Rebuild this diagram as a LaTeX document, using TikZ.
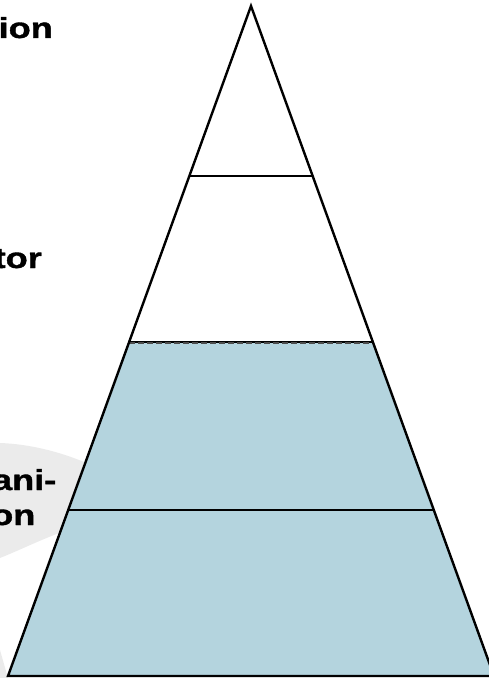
\documentclass[tikz,border=0pt]{standalone}
\usepackage{fontspec}
\setmainfont{Liberation Sans}
\newfontfamily\lblfont{Liberation Sans}[UprightFont={* Bold},UprightFeatures={FakeBold=1.2}]
\definecolor{layerblue}{RGB}{180,212,222}
\definecolor{bandgray}{RGB}{235,235,235}
\begin{document}
\begin{tikzpicture}[x=1bp,y=-1bp,
  lbl/.style={anchor=base east,inner sep=0pt,font=\lblfont\fontsize{29}{33}\selectfont},
  edge/.style={line width=2.4bp,line join=miter},
  sep/.style={line width=1.8bp}]
\useasboundingbox (0,0) rectangle (489,678);
\clip (0,0) rectangle (489,678);
% background gray band
\fill[bandgray] (0,443) .. controls (30,444) and (60,452) .. (84,462)
  -- (62,532) .. controls (40,540) and (20,550) .. (0,558) -- cycle;
\fill[bandgray] (0,650) -- (8,678) -- (0,678) -- cycle;
% corners
\coordinate (A) at (251,6);
\coordinate (BL) at (8,676);
\coordinate (BR) at (494,676);
\coordinate (L1) at (189.4,176);
\coordinate (R1) at (312.6,176);
\coordinate (L2) at (129.3,342);
\coordinate (R2) at (372.7,342);
\coordinate (L3) at (68.5,510);
\coordinate (R3) at (433.5,510);
% blue lower part
\fill[layerblue] (L2) -- (R2) -- (BR) -- (BL) -- cycle;
% separators
\draw[sep] (L1) -- (R1);
\draw[line width=1.2bp] (L2) -- (R2);
\draw[line width=1.5bp,dash pattern=on 6bp off 3bp,black!70] ([yshift=-1bp]L2) -- ([yshift=-1bp]R2);
\draw[sep] (L3) -- (R3);
% outline
\draw[edge] (A) -- (BR) -- (BL) -- cycle;
% labels
\node[lbl] (t1) at (53,38) {\scalebox{1.25}[1]{ion}};
\node[lbl] (t2) at (42,268) {\scalebox{1.25}[1]{tor}};
\node[lbl] (t3) at (56.5,490) {\scalebox{1.25}[1]{ani-}};
\node[lbl] (t4) at (35.5,525) {\scalebox{1.25}[1]{on}};
\end{tikzpicture}
\end{document}
